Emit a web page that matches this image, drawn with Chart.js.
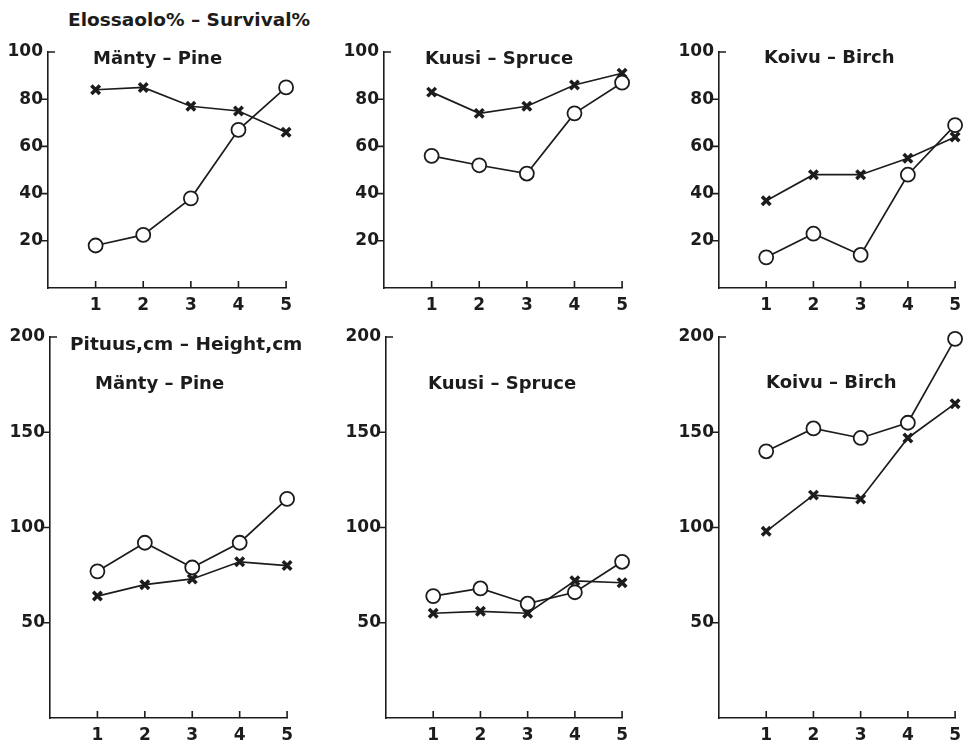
<!DOCTYPE html>
<html>
<head>
<meta charset="utf-8">
<script src="https://cdn.jsdelivr.net/npm/chart.js@4"></script>
<style>
  html, body { margin: 0; padding: 0; background: #fff; overflow: hidden; }
  body { width: 966px; height: 744px; position: relative; }
  canvas { position: absolute; }
  .lbl { position: absolute; font-family: "DejaVu Sans", sans-serif; font-weight: bold; font-size: 18px; line-height: 1; color: #1c1c1c; white-space: nowrap; }
  .lbl.head { font-size: 18.5px; }
</style>
</head>
<body>
<script>
// x-luokat (käsittely 1-5)
const xTicks = [1, 2, 3, 4, 5];
const survivalTicks = [20, 40, 60, 80, 100];
const heightTicks = [50, 100, 150, 200];

// Elossaolo % - Survival %
const survPineCircle = [18, 22.5, 38, 67, 85];
const survPineCross = [84, 85, 77, 75, 66];
const survSpruceCircle = [56, 52, 48.5, 74, 87];
const survSpruceCross = [83, 74, 77, 86, 91];
const survBirchCircle = [13, 23, 14, 48, 69];
const survBirchCross = [37, 48, 48, 55, 64];

// Pituus, cm - Height, cm
const heightPineCircle = [77, 92, 79, 92, 115];
const heightPineCross = [64, 70, 73, 82, 80];
const heightSpruceCircle = [64, 68, 60, 66, 82];
const heightSpruceCross = [55, 56, 55, 72, 71];
const heightBirchCircle = [140, 152, 147, 155, 199];
const heightBirchCross = [98, 117, 115, 147, 165];

const INK = '#1c1c1c';
const FONT = '"DejaVu Sans", sans-serif';
const Y_W = 48, PAD_T = 22, PAD_R = 12, X_H = 30;

// paneelit: akselin paikka sivulla
const panels = [
    { axisX: 48,  right: 287, top: 52,  bottom: 288, max: 100, yTicks: survivalTicks, circles: survPineCircle,   crosses: survPineCross },
    { axisX: 384, right: 623, top: 52,  bottom: 288, max: 100, yTicks: survivalTicks, circles: survSpruceCircle, crosses: survSpruceCross },
    { axisX: 719, right: 956, top: 52,  bottom: 288, max: 100, yTicks: survivalTicks, circles: survBirchCircle,  crosses: survBirchCross },
    { axisX: 50,  right: 288, top: 337, bottom: 718, max: 200, yTicks: heightTicks,   circles: heightPineCircle,   crosses: heightPineCross },
    { axisX: 386, right: 623, top: 337, bottom: 718, max: 200, yTicks: heightTicks,   circles: heightSpruceCircle, crosses: heightSpruceCross },
    { axisX: 719, right: 956, top: 337, bottom: 718, max: 200, yTicks: heightTicks,   circles: heightBirchCircle,  crosses: heightBirchCross }
];

const texts = [
    { text: 'Elossaolo% – Survival%', x: 68,  base: 25, head: true },
    { text: 'Mänty – Pine',           x: 93,  base: 63 },
    { text: 'Kuusi – Spruce',         x: 425, base: 63 },
    { text: 'Koivu – Birch',          x: 764, base: 62 },
    { text: 'Pituus,cm – Height,cm',  x: 70,  base: 349, head: true },
    { text: 'Mänty – Pine',           x: 95,  base: 388 },
    { text: 'Kuusi – Spruce',         x: 428, base: 388 },
    { text: 'Koivu – Birch',          x: 766, base: 387 }
];

function toPoints(values) {
    return xTicks.map((x, i) => ({ x: x, y: values[i] }));
}

// tikkiviivat: x-akselilla sisäänpäin, y-akselin ylin oikealle
const tickMarks = {
    id: 'tickMarks',
    afterDraw(chart) {
        const ctx = chart.ctx;
        const area = chart.chartArea;
        const xs = chart.scales.x, ys = chart.scales.y;
        ctx.save();
        ctx.strokeStyle = INK;
        ctx.lineWidth = 1.6;
        ctx.beginPath();
        xs.ticks.forEach(t => {
            const px = xs.getPixelForValue(t.value);
            ctx.moveTo(px, area.bottom);
            ctx.lineTo(px, area.bottom - 7);
        });
        ys.ticks.forEach(t => {
            const py = ys.getPixelForValue(t.value);
            if (t.value === ys.max) {
                ctx.moveTo(area.left, py);
                ctx.lineTo(area.left + 7, py);
            } else {
                ctx.moveTo(area.left - 6, py);
                ctx.lineTo(area.left, py);
            }
        });
        ctx.stroke();
        ctx.restore();
    }
};

function makeChart(p) {
    const canvas = document.createElement('canvas');
    const w = p.right - p.axisX + Y_W + PAD_R;
    const h = p.bottom - p.top + PAD_T + X_H;
    canvas.width = w;
    canvas.height = h;
    canvas.style.left = (p.axisX - Y_W) + 'px';
    canvas.style.top = (p.top - PAD_T) + 'px';
    canvas.style.width = w + 'px';
    canvas.style.height = h + 'px';
    document.body.appendChild(canvas);

    const tickFont = { family: FONT, weight: 'bold', size: 17 };

    new Chart(canvas, {
        type: 'line',
        data: {
            datasets: [
                {
                    data: toPoints(p.circles),
                    borderColor: INK,
                    borderWidth: 1.7,
                    pointStyle: 'circle',
                    pointRadius: 7,
                    pointBorderWidth: 1.8,
                    pointBorderColor: INK,
                    pointBackgroundColor: '#fff',
                    clip: false
                },
                {
                    data: toPoints(p.crosses),
                    borderColor: INK,
                    borderWidth: 1.7,
                    pointStyle: 'crossRot',
                    pointRadius: 6,
                    pointBorderWidth: 3.5,
                    pointBorderColor: INK,
                    clip: false
                }
            ]
        },
        options: {
            responsive: false,
            animation: false,
            events: [],
            layout: { padding: { top: PAD_T, right: PAD_R, left: 0, bottom: 0 } },
            plugins: { legend: { display: false }, tooltip: { enabled: false } },
            scales: {
                x: {
                    type: 'linear',
                    min: 0,
                    max: 5,
                    afterBuildTicks: s => { s.ticks = xTicks.map(v => ({ value: v })); },
                    afterFit: s => { s.height = X_H; },
                    grid: { display: false, drawTicks: false },
                    border: { color: INK, width: 1.6 },
                    ticks: { color: INK, font: tickFont, padding: 7 }
                },
                y: {
                    type: 'linear',
                    min: 0,
                    max: p.max,
                    afterBuildTicks: s => { s.ticks = p.yTicks.map(v => ({ value: v })); },
                    afterFit: s => { s.width = Y_W; },
                    grid: { display: false, drawTicks: false },
                    border: { color: INK, width: 1.6 },
                    ticks: { color: INK, font: tickFont, padding: 5 }
                }
            }
        },
        plugins: [tickMarks]
    });
}

function addTexts() {
    texts.forEach(t => {
        const d = document.createElement('div');
        d.className = t.head ? 'lbl head' : 'lbl';
        d.textContent = t.text;
        d.style.left = t.x + 'px';
        d.style.top = (t.base - 14.5) + 'px';
        document.body.appendChild(d);
    });
}

panels.forEach(makeChart);
addTexts();
</script>
</body>
</html>
